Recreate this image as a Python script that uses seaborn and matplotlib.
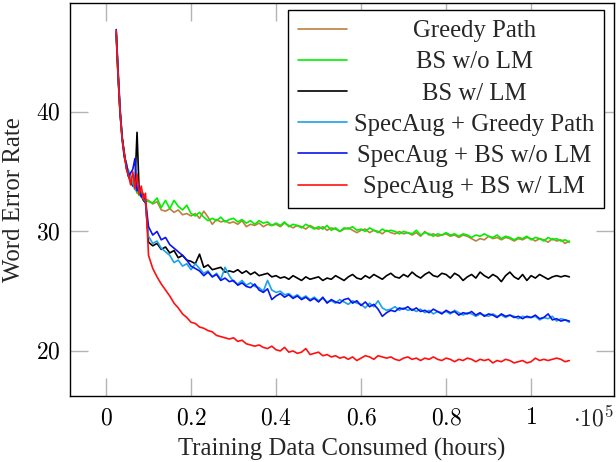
import numpy as np
import pandas as pd
import matplotlib
matplotlib.use("Agg")
import matplotlib.pyplot as plt
import seaborn as sns
from matplotlib.transforms import Affine2D
from matplotlib.ticker import FixedLocator, FuncFormatter

# ---------------- data ----------------
early_hours = [0.024, 0.028, 0.033, 0.038, 0.043, 0.048, 0.053, 0.058,
               0.063, 0.068, 0.073, 0.078, 0.083, 0.088, 0.093]
late_hours = [round(0.10 + 0.01 * i, 2) for i in range(100)]
hours = early_hours + late_hours  # x 10^5 hours

greedy = [46.5, 43.2, 40.1, 37.9, 36.5, 35.6, 34.8, 34.4, 34.0, 33.7, 33.2, 33.5, 32.9, 33.2, 32.7,
          32.6, 32.3, 32.5, 31.8, 31.7, 31.9, 31.6, 31.8, 31.4, 31.5,
          31.3, 31.5, 31.1, 31.7, 31.2, 30.6, 31.0, 30.8, 30.9, 30.7,
          30.8, 30.6, 30.9, 30.4, 30.6, 30.5, 30.7, 30.4, 30.6, 30.5,
          30.6, 30.4, 30.7, 30.5, 30.3, 30.5, 30.4, 30.2, 30.5, 30.3,
          30.2, 30.4, 30.1, 30.3, 30.2, 30.0, 30.2, 30.3, 30.1, 29.9,
          30.1, 30.2, 29.9, 30.1, 30.0, 29.8, 30.1, 29.9, 29.8, 30.0,
          29.8, 29.9, 29.7, 29.9, 29.6, 30.0, 29.7, 29.8, 29.6, 29.7,
          29.8, 29.6, 29.7, 29.5, 29.7, 29.6, 29.4, 29.2, 29.4, 29.3,
          29.6, 29.4, 29.5, 29.3, 29.5, 29.4, 29.2, 29.4, 29.3, 29.5,
          29.4, 29.2, 29.4, 29.3, 29.1, 29.4, 29.2, 29.3, 29.0, 29.2]

bs_no_lm = [46.6, 43.4, 40.0, 37.7, 36.4, 35.4, 34.9, 34.2, 34.3, 33.6, 33.4, 33.0, 33.3, 32.8, 32.6,
            32.5, 32.4, 32.8, 32.0, 32.6, 31.9, 32.6, 32.1, 31.8, 32.2,
            31.5, 31.3, 31.6, 31.2, 30.9, 31.1, 30.9, 31.2, 30.8, 31.0,
            31.1, 30.8, 31.0, 30.7, 30.9, 30.6, 30.9, 30.7, 30.8, 30.5,
            30.7, 30.5, 30.8, 30.4, 30.6, 30.5, 30.3, 30.6, 30.4, 30.2,
            30.4, 30.2, 30.5, 30.1, 30.3, 30.0, 30.3, 30.2, 30.4, 30.1,
            30.2, 30.0, 30.3, 30.1, 29.9, 30.2, 30.0, 30.1, 30.0, 29.8,
            30.0, 29.9, 29.8, 30.1, 29.7, 29.9, 29.8, 29.6, 29.8, 29.7,
            29.9, 29.7, 29.8, 29.6, 29.8, 29.7, 29.5, 29.7, 29.6, 29.8,
            29.6, 29.5, 29.7, 29.4, 29.6, 29.5, 29.3, 29.5, 29.4, 29.6,
            29.3, 29.5, 29.4, 29.2, 29.5, 29.3, 29.4, 29.2, 29.3, 29.1]

bs_lm = [46.5, 43.3, 39.9, 37.8, 36.6, 35.3, 34.6, 34.2, 33.8, 33.9, 38.3, 33.3, 33.0, 32.6, 32.4,
         29.1, 28.8, 29.0, 28.5, 28.7, 28.2, 28.4, 27.8, 28.0, 27.6,
         27.5, 27.3, 28.1, 27.0, 27.2, 26.8, 26.9, 27.0, 26.6, 26.7,
         26.6, 26.8, 26.5, 26.7, 26.4, 26.6, 26.3, 26.4, 26.5, 26.2,
         26.3, 26.1, 26.2, 26.0, 26.3, 26.1, 25.9, 26.2, 26.0, 26.1,
         26.2, 25.9, 26.1, 26.0, 26.3, 26.1, 25.9, 26.2, 26.4, 26.1,
         26.0, 26.3, 26.1, 26.4, 26.2, 26.0, 26.3, 26.5, 26.2, 26.1,
         26.4, 26.2, 26.6, 26.3, 26.1, 26.4, 26.6, 26.3, 26.2, 26.5,
         26.4, 26.1, 26.5, 26.3, 25.9, 26.2, 26.4, 26.1, 26.6, 26.3,
         26.1, 26.4, 26.2, 25.8, 26.3, 26.6, 26.2, 26.0, 26.4, 25.9,
         26.3, 26.1, 26.4, 26.2, 26.0, 26.2, 26.3, 26.2, 26.3, 26.2]

spec_greedy = [46.7, 43.6, 40.2, 37.6, 36.3, 35.5, 35.1, 34.5, 34.0, 33.5, 33.8, 33.2, 33.0, 32.7, 32.5,
               29.6, 29.0, 29.2, 28.6, 28.3, 28.0, 27.4, 27.6, 27.1, 27.3,
               26.8, 27.3, 26.9, 26.5, 26.7, 26.2, 26.5, 26.0, 27.0, 26.3,
               25.8, 25.6, 25.9, 25.5, 25.7, 25.4, 25.3, 25.0, 25.9, 25.1,
               24.9, 25.0, 24.7, 24.8, 24.5, 24.7, 24.4, 24.6, 24.3, 24.5,
               24.2, 24.4, 24.1, 24.2, 24.0, 24.3, 24.1, 23.9, 24.2, 24.0,
               23.9, 23.6, 24.0, 23.7, 24.2, 23.6, 23.4, 23.5, 23.7, 23.4,
               23.6, 23.4, 23.5, 23.3, 23.5, 23.2, 23.4, 23.1, 23.3, 23.2,
               23.3, 23.1, 23.4, 23.2, 23.0, 23.2, 23.1, 22.9, 23.1, 23.0,
               22.9, 23.1, 22.9, 23.0, 22.8, 23.0, 22.9, 22.7, 22.9, 22.8,
               22.8, 22.9, 22.6, 22.8, 22.7, 22.9, 22.5, 22.7, 22.6, 22.4]

spec_bs_no_lm = [46.9, 43.8, 40.3, 37.9, 36.2, 35.7, 34.6, 34.9, 35.2, 36.1, 33.4, 33.7, 32.9, 33.1, 32.6,
                 30.4, 29.7, 30.0, 29.3, 29.5, 28.9, 28.6, 28.3, 28.0, 27.6,
                 27.1, 26.9, 26.7, 26.3, 26.6, 26.2, 26.4, 25.9, 26.1, 25.8,
                 25.9, 25.5, 25.7, 25.4, 25.3, 25.6, 25.1, 24.9, 25.2, 24.3,
                 24.6, 24.8, 24.5, 24.7, 24.4, 24.6, 24.3, 24.5, 24.2, 24.4,
                 24.1, 24.5, 24.0, 24.3, 24.1, 24.0, 24.3, 24.4, 24.0, 24.2,
                 23.8, 24.1, 23.7, 23.9, 23.5, 22.9, 23.2, 23.4, 23.3, 23.6,
                 23.5, 23.7, 23.4, 23.6, 23.3, 23.4, 23.2, 23.5, 23.3, 23.1,
                 23.4, 23.2, 23.3, 23.0, 23.2, 23.1, 23.3, 23.0, 23.2, 22.9,
                 23.1, 23.0, 22.8, 23.1, 22.9, 23.0, 22.8, 22.9, 22.7, 22.9,
                 22.8, 23.0, 22.7, 22.8, 23.1, 22.6, 22.7, 22.5, 22.6, 22.5]

spec_bs_lm = [46.8, 43.5, 40.1, 37.8, 36.5, 35.2, 34.7, 33.9, 35.0, 33.6, 34.8, 33.1, 33.8, 32.7, 33.2,
              28.0, 26.9, 26.2, 25.6, 25.1, 24.6, 24.0, 23.6, 23.1, 22.8,
              22.4, 22.3, 22.0, 21.9, 21.7, 21.6, 21.3, 21.2, 21.1, 21.0,
              21.1, 20.8, 20.9, 20.6, 20.5, 20.4, 20.5, 20.3, 20.2, 20.4,
              20.1, 20.0, 20.3, 19.9, 20.0, 19.8, 19.9, 20.2, 19.7, 19.8,
              19.9, 19.6, 19.7, 19.5, 19.6, 19.4, 19.5, 19.3, 19.5, 19.2,
              19.4, 19.6, 19.5, 19.3, 19.6, 19.5, 19.4, 19.5, 19.3, 19.2,
              19.4, 19.5, 19.3, 19.4, 19.2, 19.4, 19.3, 19.5, 19.3, 19.2,
              19.4, 19.3, 19.1, 19.3, 19.2, 19.4, 19.3, 19.1, 19.3, 19.2,
              19.3, 19.0, 19.2, 19.1, 19.3, 19.2, 19.0, 19.1, 19.2, 19.0,
              19.1, 19.4, 19.2, 19.3, 19.2, 19.3, 19.4, 19.3, 19.1, 19.2]

series_names = ["Greedy Path", "BS w/o LM", "BS w/ LM",
                "SpecAug + Greedy Path", "SpecAug + BS w/o LM", "SpecAug + BS w/ LM"]
series_values = [greedy, bs_no_lm, bs_lm, spec_greedy, spec_bs_no_lm, spec_bs_lm]
colors = ["#BF8040", "#00F000", "#000000", "#1AA3E8", "#0A14F0", "#FF1010"]

x_ticks = [0, 0.2, 0.4, 0.6, 0.8, 1.0]
y_ticks = [20, 30, 40]

# ---------------- build frame ----------------
rows = []
for name, vals in zip(series_names, series_values):
    for h, v in zip(hours, vals):
        rows.append((name, h, v))
df = pd.DataFrame(rows, columns=["series", "hours", "wer"])

# ---------------- style ----------------
sns.set_style("white")
plt.rcParams["font.family"] = ["Liberation Serif", "DejaVu Serif"]
plt.rcParams["mathtext.fontset"] = "cm"

fig = plt.figure(figsize=(6.16, 4.62), dpi=100)
ax = fig.add_axes([70 / 616, 1 - 396 / 462, 544 / 616, 393 / 462])

sns.lineplot(data=df, x="hours", y="wer", hue="series", hue_order=series_names,
             palette=dict(zip(series_names, colors)), estimator=None, sort=False,
             linewidth=1.2, ax=ax, legend=False)

ax.set_xlim(-0.0847, 1.195)
ax.set_ylim(16.23, 49.12)

ax.xaxis.set_major_locator(FixedLocator(x_ticks))
ax.yaxis.set_major_locator(FixedLocator(y_ticks))
ax.xaxis.set_major_formatter(FuncFormatter(lambda v, p: "$%g$" % v))
ax.yaxis.set_major_formatter(FuncFormatter(lambda v, p: "$%g$" % v))
ax.tick_params(axis="both", which="major", direction="in", length=13, width=1.0,
               color="#b4b4b4", labelcolor="black", labelsize=17,
               top=True, right=True, bottom=True, left=True)
ax.tick_params(axis="x", pad=9)
ax.tick_params(axis="y", pad=7)
for s in ax.spines.values():
    s.set_visible(True)
    s.set_color("black")
    s.set_linewidth(1.0)

ax.set_xlabel("Training Data Consumed (hours)", fontsize=17.8, labelpad=6)
ax.set_ylabel("Word Error Rate", fontsize=17.8, labelpad=8)
ax.text(1.0, -0.025, r"$\cdot 10^5$", transform=ax.transAxes, ha="right", va="top",
        fontsize=17)

handles = [plt.Line2D([], [], color=c, lw=1.2) for c in colors]
leg = ax.legend(handles, series_names, loc="upper right", bbox_to_anchor=(0.982, 0.982),
                borderaxespad=0, fontsize=17.8, frameon=True, fancybox=False,
                framealpha=1, edgecolor="black", handlelength=1.95, handletextpad=0.3,
                labelspacing=0.36, borderpad=0.4)
leg.get_frame().set_linewidth(1.0)

# center legend texts within their column
fig.canvas.draw()
r = fig.canvas.get_renderer()
widths = [t.get_window_extent(r).width for t in leg.get_texts()]
mw = max(widths)
for t, w in zip(leg.get_texts(), widths):
    t.set_transform(t.get_transform() + Affine2D().translate((mw - w) / 2, 0))

fig.savefig("out.png", dpi=100)
